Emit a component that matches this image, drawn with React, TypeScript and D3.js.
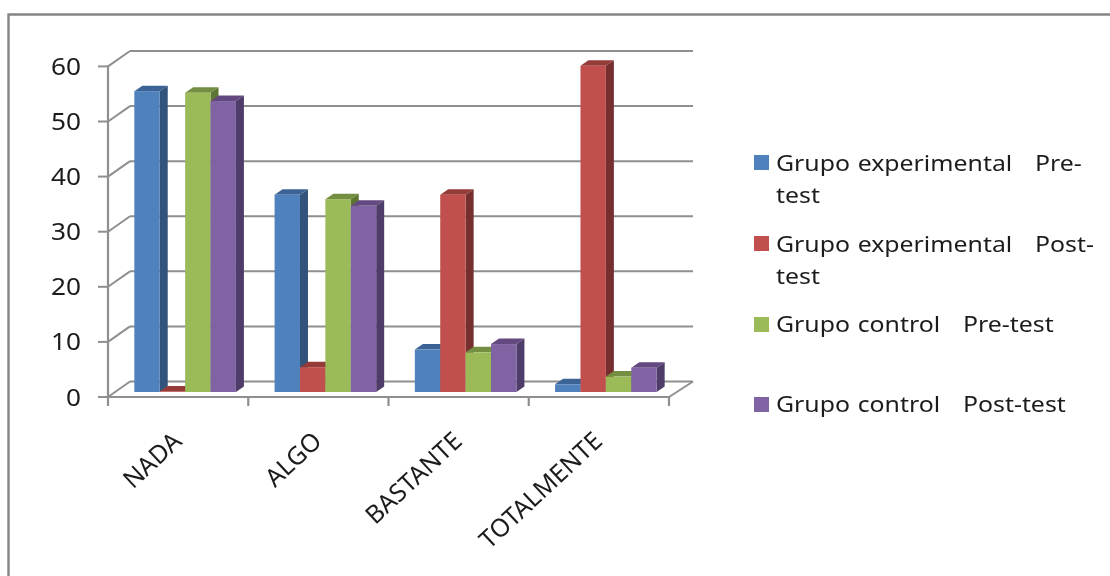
import React from "react";
import * as d3 from "d3";

const categories = ["NADA", "ALGO", "BASTANTE", "TOTALMENTE"];
const seriesNames = ["Grupo experimental Pre-test", "Grupo experimental Post-test", "Grupo control Pre-test", "Grupo control Post-test"];
const expPre = [54.6, 35.8, 7.7, 1.4];
const expPost = [0.1, 4.5, 35.8, 59.2];
const ctlPre = [54.3, 35, 7.2, 2.8];
const ctlPost = [52.8, 33.8, 8.7, 4.4];
const yTicks = [0, 10, 20, 30, 40, 50, 60];
const frontColors = ["#4F81BD", "#C0504D", "#9BBB59", "#8064A2"];
const topColors = ["#3A6496", "#953B39", "#758F43", "#64497F"];
const sideColors = ["#31527A", "#772F2D", "#5F7530", "#503D69"];
const legendLines = [
  ["Grupo experimental   Pre-", "test"],
  ["Grupo experimental   Post-", "test"],
  ["Grupo control   Pre-test"],
  ["Grupo control   Post-test"],
];
const legendSwatchY = [155, 236, 317, 397];
const legendBaselineY = [171, 252, 332, 412];

const FONT = "'Noto Sans', 'Open Sans', sans-serif";
const GRID = "#8F8F8F";
const INK = "#1c1c1c";

export default function App() {
  const values = [expPre, expPost, ctlPre, ctlPost];
  const frontX = d3.scaleBand<string>().domain(categories).range([108, 669]);
  const labelX = d3.scaleBand<string>().domain(categories).range([113, 674]);
  const barBand = d3.scaleBand<string>().domain(categories).range([115, 676]);
  const groupW = 101.6;
  const inner = d3.scaleBand<number>().domain([0, 1, 2, 3]).range([0, groupW]);
  const yFront = d3.scaleLinear().domain([0, 60]).range([397, 66.4]);
  const yBack = d3.scaleLinear().domain([0, 60]).range([381.5, 51]);
  const yBar = d3.scaleLinear().domain([0, 60]).range([392, 61.4]);
  const dx = 8, dy = 5.5;
  const backL = 130, backR = 693;

  const bars = (c: number) =>
    [0, 1, 2, 3].map((s) => {
      const w = inner.bandwidth();
      const x0 = barBand(categories[c])! + (barBand.bandwidth() - groupW) / 2 + inner(s)!;
      const y0 = yBar(values[s][c]);
      const base = yBar(0);
      return (
        <g key={s}>
          <polygon fill={topColors[s]} points={`${x0},${y0} ${x0 + dx},${y0 - dy} ${x0 + w + dx},${y0 - dy} ${x0 + w},${y0}`} />
          <polygon fill={sideColors[s]} points={`${x0 + w},${y0} ${x0 + w + dx},${y0 - dy} ${x0 + w + dx},${base - dy} ${x0 + w},${base}`} />
          <rect x={x0} y={y0} width={w} height={base - y0} fill={frontColors[s]} />
        </g>
      );
    });

  const tickXs = [...categories.map((c) => frontX(c)!), 669];

  return (
    <svg width={1110} height={576} viewBox="0 0 1110 576" style={{ position: "absolute", left: 0, top: 0 }}>
      <defs>
        <filter id="soft" x="-2%" y="-2%" width="104%" height="104%">
          <feGaussianBlur stdDeviation="0.45" />
        </filter>
      </defs>
      <rect width={1110} height={576} fill="#fff" />
      <g filter="url(#soft)">
        <path d="M8.5,590 V14.5 H1125" fill="none" stroke="#858585" strokeWidth={2.4} />
        {yTicks.map((t) => (
          <g key={t} stroke={GRID} strokeWidth={2} fill="none">
            <line x1={backL} x2={backR} y1={yBack(t)} y2={yBack(t)} />
            <line x1={108} x2={backL} y1={yFront(t)} y2={yBack(t)} />
            <line x1={98} x2={108} y1={yFront(t)} y2={yFront(t)} />
          </g>
        ))}
        <line x1={108} x2={108} y1={yFront(60)} y2={yFront(0)} stroke={GRID} strokeWidth={2.2} />
        <line x1={108} x2={669} y1={yFront(0)} y2={yFront(0)} stroke={GRID} strokeWidth={2.2} />
        <line x1={669} x2={backR} y1={yFront(0)} y2={yBack(0)} stroke={GRID} strokeWidth={2} />
        {tickXs.map((x) => (
          <line key={x} x1={x} x2={x} y1={yFront(0)} y2={406} stroke={GRID} strokeWidth={2.2} />
        ))}
        {categories.map((_, c) => (
          <g key={c}>{bars(c)}</g>
        ))}
        {yTicks.map((t) => (
          <text key={t} transform={`translate(81,${yFront(t) + 8.5}) scale(1.14,1)`} textAnchor="end" fontFamily={FONT} fontSize={23} fill={INK}>
            {t}
          </text>
        ))}
        {categories.map((c) => {
          const cx = labelX(c)! + labelX.bandwidth() / 2;
          return (
            <text key={c} transform={`translate(${cx},443) rotate(-43)`} textAnchor="end" fontFamily={FONT} fontSize={25} fill={INK}>
              {c}
            </text>
          );
        })}
        {seriesNames.map((name, i) => (
          <g key={name}>
            <rect x={754} y={legendSwatchY[i]} width={15} height={15} fill={frontColors[i]} />
            {legendLines[i].map((ln, j) => (
              <text key={j} transform={`translate(776,${legendBaselineY[i] + j * 31.5}) scale(1.13,1)`} fontFamily={FONT} fontSize={22} wordSpacing={1} fill={INK} style={{ whiteSpace: "pre" }}>
                {ln}
              </text>
            ))}
          </g>
        ))}
      </g>
    </svg>
  );
}
